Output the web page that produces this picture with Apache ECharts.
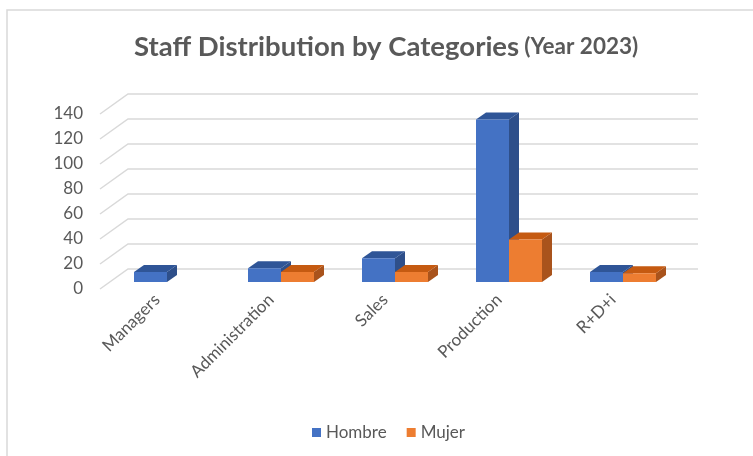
<!DOCTYPE html>
<html>
<head>
<meta charset="utf-8">
<script src="https://cdn.jsdelivr.net/npm/echarts@6/dist/echarts.min.js"></script>
<style>
  html, body { margin: 0; padding: 0; background: #fff; }
  #chart { width: 753px; height: 456px; }
</style>
</head>
<body>
<div id="chart"></div>
<script>
// Staff headcount per category, split by sex
const categories = ['Managers', 'Administration', 'Sales', 'Production', 'R+D+i'];
const hombre = [8, 11, 19, 130, 8];
const mujer = [0, 8, 8, 34, 7];
const yTicks = [0, 20, 40, 60, 80, 100, 120, 140];

const FONT = 'Lato, "Open Sans", sans-serif';
const TEXT = '#595959';

// 3D look: wall depth and bar depth offsets (screen px)
const WALL_DX = 28, WALL_DY = -20;
const BAR_SHIFT_X = 10, BAR_SHIFT_Y = -7;
const BAR_DEPTH_X = 10, BAR_DEPTH_Y = -7;
const BAR_W = 33;

const palettes = {
  Hombre: { front: '#4472C4', top: '#2F5597', side: '#2E4F8A' },
  Mujer:  { front: '#ED7D31', top: '#C55A11', side: '#A9531C' }
};

function barRenderer(seriesName, side) {
  const pal = palettes[seriesName];
  return function (params, api) {
    const v = api.value(1);
    if (!v) return null;
    const base = api.coord([api.value(0), 0]);
    const top = api.coord([api.value(0), v]);
    const cx = base[0] + BAR_SHIFT_X;
    const x0 = side < 0 ? cx - BAR_W : cx;
    const x1 = x0 + BAR_W;
    const yb = base[1] + BAR_SHIFT_Y;
    const yt = top[1] + BAR_SHIFT_Y;
    return {
      type: 'group',
      children: [
        { type: 'polygon', shape: { points: [[x1, yt], [x1 + BAR_DEPTH_X, yt + BAR_DEPTH_Y], [x1 + BAR_DEPTH_X, yb + BAR_DEPTH_Y], [x1, yb]] }, style: { fill: pal.side } },
        { type: 'polygon', shape: { points: [[x0, yt], [x1, yt], [x1 + BAR_DEPTH_X, yt + BAR_DEPTH_Y], [x0 + BAR_DEPTH_X, yt + BAR_DEPTH_Y]] }, style: { fill: pal.top } },
        { type: 'rect', shape: { x: x0, y: yt, width: BAR_W, height: yb - yt }, style: { fill: pal.front } }
      ]
    };
  };
}

function wallRenderer(params, api) {
  const cs = params.coordSys;
  const p = api.coord([0, api.value(0)]);
  const y = p[1];
  return {
    type: 'polyline',
    shape: { points: [[cs.x, y], [cs.x + WALL_DX, y + WALL_DY], [cs.x + cs.width + WALL_DX, y + WALL_DY]] },
    style: { stroke: '#d9d9d9', lineWidth: 1.5, fill: null }
  };
}

const chart = echarts.init(document.getElementById('chart'), null, { renderer: 'canvas' });
chart.setOption({
  backgroundColor: '#fff',
  animation: false,
  graphic: [{
    type: 'rect', silent: true,
    shape: { x: 7, y: 10, width: 800, height: 500 },
    style: { fill: null, stroke: '#d9d9d9', lineWidth: 1.5 }
  }],
  title: {
    text: '{a|Staff Distribution by Categories} {b|(Year 2023)}',
    left: 129, top: 28,
    textStyle: {
      rich: {
        a: { fontFamily: FONT, fontSize: 27.5, fontWeight: 'bold', color: TEXT },
        b: { fontFamily: FONT, fontSize: 22.5, fontWeight: 'bold', color: TEXT }
      }
    }
  },
  legend: {
    data: ['Hombre', 'Mujer'],
    bottom: 10, left: 307,
    icon: 'rect', itemWidth: 9, itemHeight: 9, itemGap: 20,
    textStyle: { fontFamily: FONT, fontSize: 17, color: TEXT }
  },
  grid: { left: 100, right: 83, top: 114, bottom: 167 },
  xAxis: {
    type: 'category', data: categories,
    axisLine: { show: false }, axisTick: { show: false },
    axisLabel: { rotate: 45, margin: 8, fontFamily: FONT, fontSize: 17, color: TEXT }
  },
  yAxis: {
    type: 'value', min: 0, max: 140, interval: 20,
    axisLine: { show: false }, axisTick: { show: false }, splitLine: { show: false },
    axisLabel: { margin: 17, fontFamily: FONT, fontSize: 17, color: TEXT }
  },
  series: [
    {
      name: 'wall', type: 'custom', silent: true, z: 1,
      renderItem: wallRenderer, data: yTicks.map(v => [v])
    },
    {
      name: 'Hombre', type: 'custom', z: 2,
      itemStyle: { color: palettes.Hombre.front },
      renderItem: barRenderer('Hombre', -1),
      data: hombre.map((v, i) => [i, v])
    },
    {
      name: 'Mujer', type: 'custom', z: 3,
      itemStyle: { color: palettes.Mujer.front },
      renderItem: barRenderer('Mujer', 1),
      data: mujer.map((v, i) => [i, v])
    }
  ]
});
</script>
</body>
</html>
